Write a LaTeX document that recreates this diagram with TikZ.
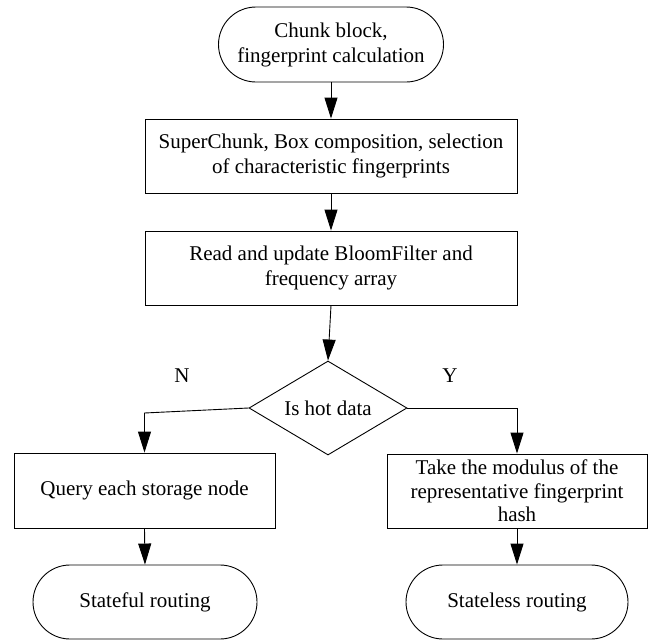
\documentclass[tikz,border=0pt]{standalone}
\usepackage{fontspec}
\setmainfont{Liberation Serif}
\usetikzlibrary{arrows.meta,shapes.misc,shapes.geometric}
\begin{document}
\begin{tikzpicture}[x=1pt,y=-1pt,
  every node/.style={font=\fontsize{21}{25}\selectfont, align=center, inner sep=0pt},
  term/.style={draw, line width=0.9pt, rounded rectangle, minimum height=74pt},
  procbox/.style={draw, line width=0.9pt, rectangle, minimum height=74pt},
  decision/.style={draw, line width=0.9pt, diamond, shape aspect=1.68, minimum width=158pt, minimum height=94pt},
  arr/.style={draw, line width=0.9pt, -{Triangle[length=21pt,width=13pt]}},
  lbl/.style={font=\fontsize{21}{25}\selectfont}
]
\useasboundingbox (0,0) rectangle (654,640);

\node[term, minimum width=225pt, minimum height=75pt] (start) at (331,44.5) {Chunk block,\\fingerprint calculation};
\node[procbox, minimum width=372pt] (sc) at (331,156) {SuperChunk, Box composition, selection\\of characteristic fingerprints};
\node[procbox, minimum width=372pt] (bf) at (331,268) {Read and update BloomFilter and\\frequency array};
\node[decision] (dia) at (328,408) {Is hot data};
\node[lbl] (nlab) at (182,376) {N};
\node[lbl] (ylab) at (450,376) {Y};
\node[procbox, minimum width=261pt, minimum height=75pt] (query) at (144.5,490.5) {Query each storage node};
\node[procbox, minimum width=260pt, font=\fontsize{21}{23.5}\selectfont] (mod) at (517,491) {Take the modulus of the\\representative fingerprint\\hash};
\node[term, minimum width=224pt] (sful) at (145,602) {Stateful routing};
\node[term, minimum width=222pt] (sless) at (517,602) {Stateless routing};

\coordinate (nb) at (144.5,413);

\draw[arr] (start.south) -- (sc.north);
\draw[arr] (sc.south) -- (bf.north);
\draw[arr] (bf.south) -- (dia.north);
\draw[arr] (dia.west) -- (nb) -- (query.north);
\draw[arr] (dia.east) -| (mod.north);
\draw[arr] (query.south) -- (sful.north);
\draw[arr] (mod.south) -- (sless.north);
\end{tikzpicture}
\end{document}
